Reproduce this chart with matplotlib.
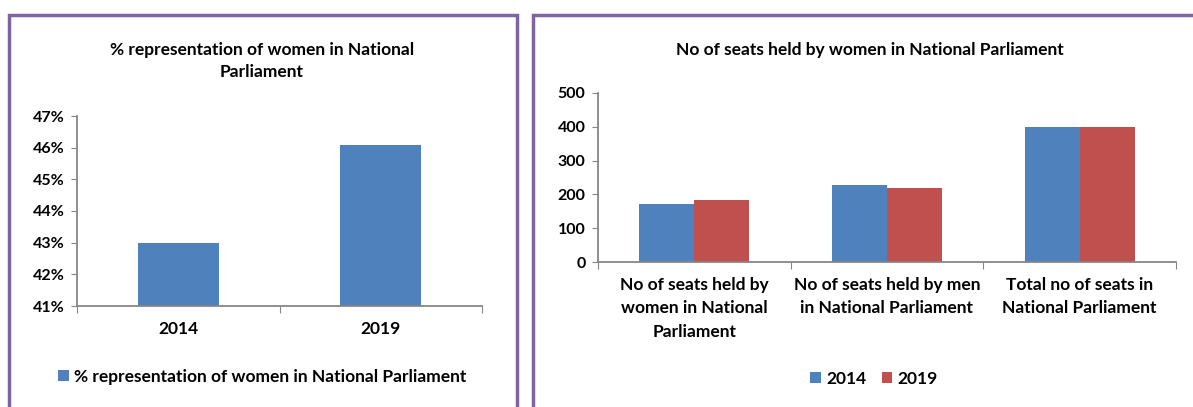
import matplotlib
matplotlib.use('Agg')
from matplotlib import pyplot as plt
import matplotlib.patches as mpatches
import numpy as np

plt.rcParams['font.family'] = ['Lato', 'DejaVu Sans']
plt.rcParams['font.weight'] = 'bold'

# data
pct_years = ['2014', '2019']
pct_women = [43.0, 46.1]

seat_categories = ['No of seats held by\nwomen in National\nParliament',
                   'No of seats held by men\nin National Parliament',
                   'Total no of seats in\nNational Parliament']
seats_2014 = [171, 229, 400]
seats_2019 = [182, 218, 400]

C_blue = '#4F81BD'
C_red = '#C0504D'
C_axis = '#868686'
C_frame = '#8064A2'

W, H = 1193, 407
fig = plt.figure(figsize=(W / 100, H / 100), dpi=100)


def px_axes(x0, y0, x1, y1):
    """ axes from pixel box (top-left origin) """
    return fig.add_axes([x0 / W, 1 - y1 / H, (x1 - x0) / W, (y1 - y0) / H])


def style_axes(ax):
    for s in ['top', 'right']:
        ax.spines[s].set_visible(False)
    for s in ['left', 'bottom']:
        ax.spines[s].set_color(C_axis)
        ax.spines[s].set_linewidth(1.3)
    ax.tick_params(axis='y', which='major', direction='out', length=4,
                   color=C_axis, labelsize=11.5, pad=5)
    ax.tick_params(axis='x', which='major', direction='out', length=5,
                   color=C_axis, labelbottom=False)
    ax.tick_params(axis='x', which='minor', length=0, labelsize=12.5)


# panel frames
fig.patches.append(mpatches.Rectangle((9 / W, -0.1), (517 - 9) / W, 1.1 - 15 / H,
                                      transform=fig.transFigure, fill=False,
                                      edgecolor=C_frame, linewidth=2.5))
fig.patches.append(mpatches.Rectangle((533 / W, -0.1), 0.6, 1.1 - 15 / H,
                                      transform=fig.transFigure, fill=False,
                                      edgecolor=C_frame, linewidth=2.5))

# left chart
ax1 = px_axes(77, 116, 482, 306)
x = np.arange(len(pct_years))
ax1.bar(x, pct_women, width=0.4, color=C_blue, label='% representation of women in National Parliament')
ax1.set_xlim(-0.5, len(pct_years) - 0.5)
ax1.set_ylim(41, 47)
ax1.set_yticks(range(41, 48))
ax1.set_yticklabels(['%d%%' % v for v in range(41, 48)])
ax1.set_xticks(np.arange(-0.5, len(pct_years), 1.0))
ax1.set_xticks(x, minor=True)
ax1.set_xticklabels(pct_years, minor=True)
style_axes(ax1)
ax1.tick_params(axis='x', which='minor', pad=11)
fig.text(262 / W, 1 - 61 / H, '% representation of women in National\nParliament',
         ha='center', va='center', fontsize=12.5, fontweight='bold', linespacing=1.45)
ax1.legend(loc='center', bbox_to_anchor=(0.457, -0.374), frameon=False, fontsize=12.5,
           handlelength=0.6, handleheight=0.6, handletextpad=0.3)

# right chart
ax2 = px_axes(598, 93, 1176, 262)
x2 = np.arange(len(seat_categories))
bw = 0.285
ax2.bar(x2 - bw / 2, seats_2014, width=bw, color=C_blue, label='2014')
ax2.bar(x2 + bw / 2, seats_2019, width=bw, color=C_red, label='2019')
ax2.set_xlim(-0.5, len(seat_categories) - 0.5)
ax2.set_ylim(0, 500)
ax2.set_yticks(range(0, 501, 100))
ax2.set_xticks(np.arange(-0.5, len(seat_categories), 1.0))
ax2.set_xticks(x2, minor=True)
ax2.set_xticklabels(seat_categories, minor=True, linespacing=1.55)
style_axes(ax2)
ax2.tick_params(axis='x', which='minor', pad=11)
fig.text(870 / W, 1 - 50 / H, 'No of seats held by women in National Parliament',
         ha='center', va='center', fontsize=12.5, fontweight='bold')
ax2.legend(loc='center', bbox_to_anchor=(0.4775, -0.692), frameon=False, fontsize=12.5,
           ncol=2, handlelength=0.6, handleheight=0.6, handletextpad=0.3,
           columnspacing=0.9)

fig.savefig('out.png', dpi=100)
